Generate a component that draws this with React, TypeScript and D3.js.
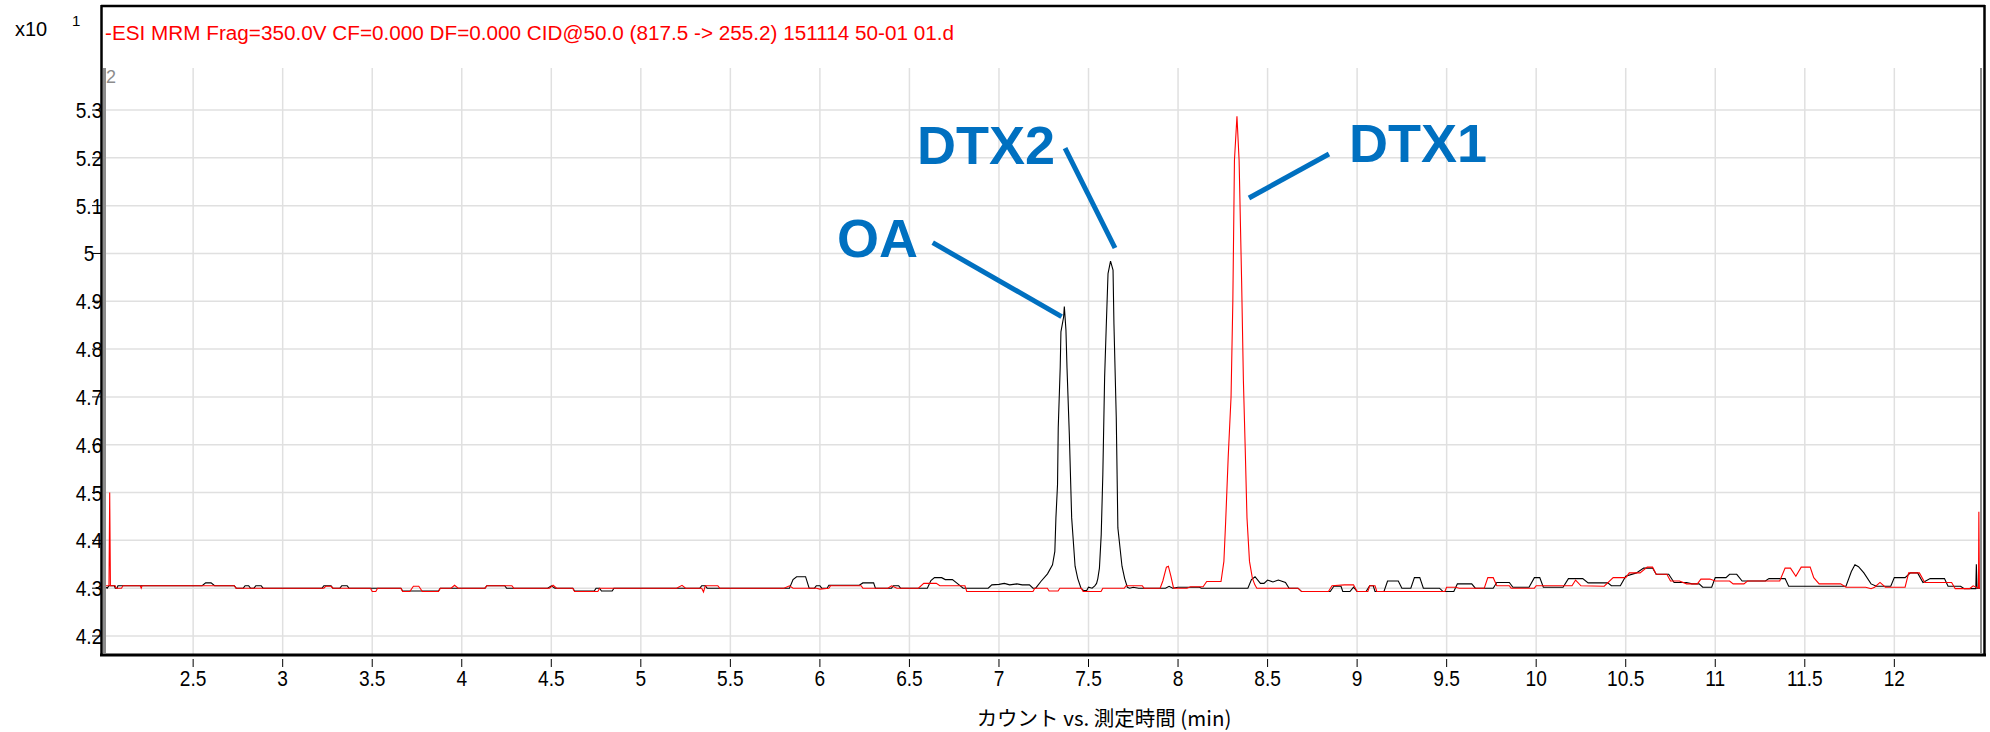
import React from "react";
import { scaleLinear, line, curveLinear } from "d3";

// chromatogram traces, [time (min), counts x10^1]
const blackTrace: [number, number][] = [
  [1.991, 4.304], [2.005, 4.304], [2.02, 4.3], [2.03, 4.305], [2.06, 4.305], [2.065, 4.3], [2.075, 4.3], [2.08, 4.305],
  [2.55, 4.305], [2.57, 4.311], [2.6, 4.311], [2.62, 4.305], [2.73, 4.305], [2.74, 4.3], [2.78, 4.3], [2.79, 4.305],
  [2.81, 4.305], [2.82, 4.3], [2.84, 4.3], [2.85, 4.305], [2.88, 4.305], [2.89, 4.3],
  [3.22, 4.3], [3.23, 4.305], [3.27, 4.305], [3.28, 4.3], [3.32, 4.3], [3.33, 4.305], [3.36, 4.305], [3.37, 4.3],
  [3.66, 4.3], [3.67, 4.294], [3.87, 4.294], [3.88, 4.3],
  [4.13, 4.3], [4.14, 4.305], [4.24, 4.305], [4.25, 4.3],
  [4.48, 4.3], [4.5, 4.305], [4.52, 4.3], [4.62, 4.3], [4.63, 4.294], [4.74, 4.294], [4.75, 4.3], [4.77, 4.3],
  [4.78, 4.294], [4.84, 4.294], [4.85, 4.3],
  [5.33, 4.3], [5.34, 4.305], [5.36, 4.305], [5.37, 4.3],
  [5.83, 4.3], [5.85, 4.318], [5.87, 4.324], [5.92, 4.324], [5.94, 4.3], [5.97, 4.3], [5.98, 4.305], [6.0, 4.305],
  [6.01, 4.3], [6.04, 4.3], [6.05, 4.306], [6.22, 4.306], [6.24, 4.311], [6.3, 4.311], [6.31, 4.3], [6.4, 4.3],
  [6.41, 4.305], [6.44, 4.305], [6.45, 4.3], [6.6, 4.3], [6.62, 4.316], [6.64, 4.322], [6.68, 4.322], [6.7, 4.318],
  [6.74, 4.318], [6.76, 4.312], [6.8, 4.3], [6.94, 4.3], [6.96, 4.307], [7.0, 4.308], [7.03, 4.31], [7.06, 4.307],
  [7.1, 4.309], [7.13, 4.307], [7.17, 4.307], [7.19, 4.3],
  // OA
  [7.205, 4.3], [7.234, 4.314], [7.271, 4.33], [7.299, 4.349], [7.312, 4.377], [7.318, 4.447], [7.327, 4.517],
  [7.331, 4.636], [7.342, 4.762], [7.346, 4.836], [7.361, 4.867], [7.365, 4.889], [7.374, 4.84], [7.38, 4.76],
  [7.393, 4.62], [7.406, 4.447], [7.425, 4.346], [7.44, 4.32], [7.458, 4.3], [7.473, 4.295],
  [7.49, 4.295], [7.5, 4.302], [7.52, 4.3], [7.535, 4.305], [7.545, 4.31],
  // DTX2
  [7.552, 4.32], [7.561, 4.342], [7.571, 4.412], [7.58, 4.538], [7.59, 4.741], [7.599, 4.846], [7.609, 4.958],
  [7.623, 4.984], [7.637, 4.965], [7.642, 4.853], [7.655, 4.657], [7.664, 4.426], [7.687, 4.346], [7.702, 4.32],
  [7.717, 4.302],
  [7.73, 4.3], [7.75, 4.302], [7.78, 4.3], [7.93, 4.3], [7.95, 4.304], [7.97, 4.3], [8.0, 4.302], [8.12, 4.302],
  [8.13, 4.3], [8.39, 4.3], [8.41, 4.318], [8.43, 4.324], [8.46, 4.31], [8.48, 4.31], [8.5, 4.317], [8.53, 4.313],
  [8.56, 4.317], [8.6, 4.312], [8.62, 4.3], [8.67, 4.3], [8.69, 4.293], [8.85, 4.293], [8.87, 4.304], [8.91, 4.304],
  [8.92, 4.293], [8.96, 4.293], [8.98, 4.302], [9.0, 4.293], [9.05, 4.293], [9.07, 4.305], [9.09, 4.305], [9.1, 4.293],
  [9.15, 4.293], [9.17, 4.315], [9.23, 4.315], [9.25, 4.3], [9.3, 4.3], [9.32, 4.322], [9.35, 4.322], [9.37, 4.3],
  [9.46, 4.3], [9.48, 4.293], [9.54, 4.293], [9.56, 4.309], [9.64, 4.309], [9.66, 4.3], [9.76, 4.3], [9.78, 4.312],
  [9.85, 4.312], [9.87, 4.302], [9.96, 4.302], [9.99, 4.322], [10.02, 4.322], [10.04, 4.302], [10.15, 4.302],
  [10.18, 4.32], [10.26, 4.32], [10.29, 4.311], [10.4, 4.311], [10.42, 4.305], [10.47, 4.305], [10.5, 4.325],
  [10.56, 4.332], [10.6, 4.342], [10.65, 4.342], [10.67, 4.329], [10.74, 4.329], [10.77, 4.312], [10.84, 4.312],
  [10.87, 4.309], [10.91, 4.309], [10.93, 4.302], [10.98, 4.302], [11.0, 4.322], [11.06, 4.322], [11.08, 4.329],
  [11.12, 4.329], [11.15, 4.315], [11.28, 4.315], [11.3, 4.32], [11.39, 4.32], [11.41, 4.304], [11.73, 4.304],
  [11.76, 4.335], [11.78, 4.349], [11.8, 4.345], [11.83, 4.332], [11.87, 4.309], [11.9, 4.304], [11.98, 4.304],
  [12.0, 4.322], [12.06, 4.322], [12.09, 4.332], [12.13, 4.332], [12.16, 4.312], [12.2, 4.32], [12.28, 4.32],
  [12.3, 4.304], [12.37, 4.304], [12.39, 4.299], [12.455, 4.299], [12.458, 4.35], [12.462, 4.3], [12.484, 4.3],
];

const redTrace: [number, number][] = [
  [1.991, 4.305], [2.03, 4.305], [2.034, 4.5], [2.038, 4.305], [2.065, 4.305], [2.07, 4.3], [2.1, 4.3],
  [2.108, 4.305], [2.205, 4.305], [2.21, 4.3], [2.215, 4.305], [2.73, 4.305], [2.74, 4.3], [3.23, 4.3],
  [3.24, 4.304], [3.27, 4.304], [3.28, 4.3], [3.49, 4.3], [3.5, 4.293], [3.52, 4.293], [3.53, 4.3], [3.66, 4.3],
  [3.67, 4.293], [3.71, 4.293], [3.73, 4.304], [3.76, 4.304], [3.78, 4.293], [3.87, 4.293], [3.88, 4.3],
  [3.94, 4.3], [3.96, 4.306], [3.98, 4.3], [4.13, 4.3], [4.14, 4.305], [4.28, 4.305], [4.29, 4.3], [4.49, 4.3],
  [4.51, 4.306], [4.53, 4.3], [4.62, 4.3], [4.63, 4.293], [4.76, 4.293], [4.77, 4.3], [5.2, 4.3], [5.23, 4.306],
  [5.25, 4.3], [5.34, 4.3], [5.35, 4.292], [5.36, 4.305], [5.43, 4.305], [5.44, 4.3], [5.8, 4.3], [5.83, 4.305],
  [5.85, 4.3], [5.98, 4.3], [6.0, 4.298], [6.05, 4.3], [6.06, 4.305], [6.23, 4.305], [6.24, 4.3], [6.38, 4.3],
  [6.4, 4.305], [6.43, 4.3], [6.55, 4.3], [6.58, 4.31], [6.65, 4.31], [6.67, 4.305], [6.81, 4.305], [6.82, 4.293],
  [7.19, 4.293], [7.2, 4.3], [7.27, 4.3], [7.28, 4.294], [7.33, 4.294], [7.34, 4.3], [7.46, 4.3], [7.47, 4.293],
  [7.57, 4.293], [7.58, 4.3], [7.7, 4.3], [7.71, 4.305], [7.8, 4.305], [7.81, 4.3], [7.9, 4.3], [7.915, 4.315],
  [7.935, 4.344], [7.946, 4.346], [7.96, 4.325], [7.975, 4.3], [8.05, 4.3], [8.07, 4.303], [8.14, 4.303],
  [8.16, 4.314], [8.24, 4.314],
  // DTX1
  [8.256, 4.356], [8.266, 4.44], [8.28, 4.573], [8.296, 4.7], [8.306, 4.9], [8.315, 5.195], [8.329, 5.287],
  [8.341, 5.195], [8.355, 4.943], [8.365, 4.734], [8.375, 4.594], [8.385, 4.447], [8.399, 4.356], [8.415, 4.321],
  [8.429, 4.307],
  [8.44, 4.3], [8.67, 4.3], [8.69, 4.293], [8.84, 4.293], [8.86, 4.305], [8.93, 4.307], [8.98, 4.307], [9.0, 4.293],
  [9.06, 4.293], [9.07, 4.305], [9.1, 4.305], [9.11, 4.293], [9.49, 4.293], [9.5, 4.302], [9.55, 4.302], [9.57, 4.3],
  [9.71, 4.3], [9.73, 4.322], [9.76, 4.322], [9.78, 4.305], [9.85, 4.305], [9.86, 4.3], [9.99, 4.3], [10.0, 4.305],
  [10.2, 4.305], [10.22, 4.317], [10.25, 4.305], [10.38, 4.304], [10.43, 4.322], [10.5, 4.322], [10.52, 4.332],
  [10.58, 4.332], [10.62, 4.344], [10.65, 4.344], [10.67, 4.329], [10.73, 4.329], [10.75, 4.315], [10.8, 4.315],
  [10.84, 4.309], [10.9, 4.309], [10.92, 4.319], [10.97, 4.319], [11.0, 4.315], [11.08, 4.315], [11.1, 4.309],
  [11.16, 4.309], [11.18, 4.315], [11.36, 4.315], [11.39, 4.342], [11.42, 4.342], [11.45, 4.325], [11.48, 4.344],
  [11.53, 4.344], [11.55, 4.322], [11.58, 4.309], [11.7, 4.309], [11.73, 4.302], [11.84, 4.302], [11.87, 4.299],
  [11.89, 4.302], [11.92, 4.312], [11.95, 4.302], [12.06, 4.302], [12.08, 4.332], [12.14, 4.332], [12.17, 4.312],
  [12.32, 4.312], [12.34, 4.299], [12.42, 4.299], [12.44, 4.305], [12.47, 4.3], [12.472, 4.46], [12.475, 4.3],
  [12.484, 4.3],
];

const xTicks = [2.5, 3, 3.5, 4, 4.5, 5, 5.5, 6, 6.5, 7, 7.5, 8, 8.5, 9, 9.5, 10, 10.5, 11, 11.5, 12];
const yTicks = [4.2, 4.3, 4.4, 4.5, 4.6, 4.7, 4.8, 4.9, 5, 5.1, 5.2, 5.3];

// peak labels: text anchor and leader line, in data units
const peakNames = ["OA", "DTX2", "DTX1"];
const labelAt: [number, number][] = [[6.095, 4.993], [6.542, 5.187], [8.955, 5.191]];
const leaderFrom: [number, number][] = [[6.63, 5.0225], [7.369, 5.2205], [8.843, 5.208]];
const leaderTo: [number, number][] = [[7.35, 4.868], [7.648, 5.0114], [8.396, 5.116]];

const title = "-ESI MRM Frag=350.0V CF=0.000 DF=0.000 CID@50.0 (817.5 -> 255.2) 151114 50-01 01.d";
const xTitle = "カウント vs. 測定時間 (min)";

const W = 1990;
const H = 732;
const left = 102;
const right = 1981;
const plotTop = 68;
const plotBottom = 655;

const fmt = (v: number) => String(+v.toFixed(1));

export default function App() {
  const x = scaleLinear().domain([1.991, 12.484]).range([left, right]);
  const y = scaleLinear().domain([4.2, 5.3]).range([636, 110]);

  const path = line<[number, number]>()
    .x(d => x(d[0]))
    .y(d => y(d[1]))
    .curve(curveLinear);

  const tickFont = "'Liberation Sans', Arial, sans-serif";
  const blue = "#0070c0";

  return (
    <svg width={W} height={H} style={{ position: "absolute", left: 0, top: 0, background: "#fff" }}>
      <defs>
        <clipPath id="plot">
          <rect x={left + 1} y={plotTop} width={right - left} height={plotBottom - plotTop} />
        </clipPath>
      </defs>

      {/* grid */}
      {xTicks.map(t => (
        <line key={"gx" + t} x1={x(t)} x2={x(t)} y1={plotTop} y2={plotBottom} stroke="#e0e0e0" strokeWidth={1.5} />
      ))}
      {yTicks.map(v => (
        <line key={"gy" + v} x1={left + 4} x2={right} y1={y(v)} y2={y(v)} stroke="#e0e0e0" strokeWidth={1.5} />
      ))}

      {/* y labels, partly under the axis like the original */}
      {yTicks.map(v => (
        <g key={"yl" + v} transform={`translate(89, ${y(v) + 8}) scale(0.85, 1)`}>
          <text textAnchor="middle" fontFamily={tickFont} fontSize={22.5} fill="#000">{fmt(v)}</text>
        </g>
      ))}

      {/* traces */}
      <g clipPath="url(#plot)" fill="none">
        <path d={path(blackTrace) || ""} stroke="#000" strokeWidth={1.1} />
        <path d={path(redTrace) || ""} stroke="#ff0000" strokeWidth={1.1} />
      </g>

      {/* inner grey edges */}
      <rect x={left + 1} y={plotTop} width={3} height={plotBottom - plotTop - 2} fill="#8c8c8c" />
      <rect x={right - 1} y={plotTop} width={2} height={plotBottom - plotTop - 2} fill="#8c8c8c" />
      <text x={106} y={83} fontFamily={tickFont} fontSize={18} fill="#8c8c8c">2</text>

      {/* frame */}
      <line x1={101} x2={1985} y1={6} y2={6} stroke="#000" strokeWidth={2.5} />
      <line x1={101.5} x2={101.5} y1={5} y2={656} stroke="#000" strokeWidth={2.5} />
      <line x1={1984.5} x2={1984.5} y1={5} y2={656} stroke="#000" strokeWidth={2.5} />
      <line x1={100} x2={1986} y1={655} y2={655} stroke="#000" strokeWidth={3} />

      {/* ticks */}
      {yTicks.map(v => (
        <line key={"yt" + v} x1={92} x2={102} y1={y(v)} y2={y(v)} stroke="#000" strokeWidth={1} />
      ))}
      {xTicks.map(t => (
        <line key={"xt" + t} x1={x(t)} x2={x(t)} y1={659} y2={667} stroke="#000" strokeWidth={1} />
      ))}
      {xTicks.map(t => (
        <g key={"xl" + t} transform={`translate(${x(t)}, 686) scale(0.85, 1)`}>
          <text textAnchor="middle" fontFamily={tickFont} fontSize={22.5} fill="#000">{fmt(t)}</text>
        </g>
      ))}

      {/* header */}
      <text x={15} y={36} fontFamily={tickFont} fontSize={20} fill="#000">x10</text>
      <text x={72} y={26} fontFamily={tickFont} fontSize={15} fill="#000">1</text>
      <text x={105} y={40} fontFamily={tickFont} fontSize={20} fill="#ff0000" textLength={849} lengthAdjust="spacingAndGlyphs">
        {title}
      </text>

      {/* x axis title */}
      <text x={1104} y={726} textAnchor="middle" fontFamily="'Noto Sans CJK JP', sans-serif" fontSize={20.5} fill="#000">
        {xTitle}
      </text>

      {/* peak annotations */}
      {peakNames.map((name, i) => (
        <g key={name}>
          <line
            x1={x(leaderFrom[i][0])} y1={y(leaderFrom[i][1])}
            x2={x(leaderTo[i][0])} y2={y(leaderTo[i][1])}
            stroke={blue} strokeWidth={5}
          />
          <text x={x(labelAt[i][0])} y={y(labelAt[i][1])} fontFamily={tickFont} fontWeight="bold" fontSize={54} fill={blue}>
            {name}
          </text>
        </g>
      ))}
    </svg>
  );
}
